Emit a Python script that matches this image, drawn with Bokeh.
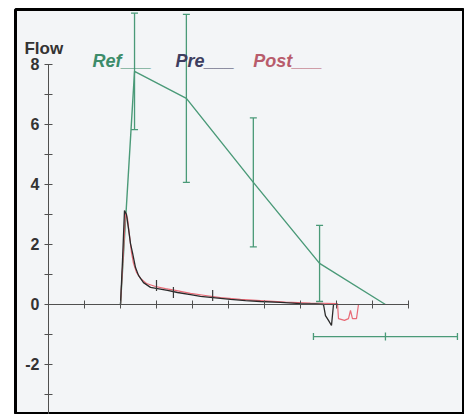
from bokeh.plotting import figure
from bokeh.models import (LinearAxis, FixedTicker, Range1d, ColumnDataSource,
                          Whisker, TeeHead, Label)
from bokeh.embed import file_html
from bokeh.resources import INLINE

# ---- data (x in axis-tick units, y = Flow) ----
ref_x = [2.00, 2.39, 3.83, 5.69, 7.53, 9.36]
ref_y = [0.00, 7.77, 6.87, 4.07, 1.37, 0.00]
err_x = [2.39, 3.83, 5.69, 7.53]
err_mid = [7.77, 6.87, 4.07, 1.37]
err_size = [1.94, 2.80, 2.15, 1.27]

# horizontal spread of the end point
end_x = [9.36]
end_y = [-1.07]
end_spread = [2.0]

pre_x = [2.00, 2.056, 2.111, 2.167, 2.222, 2.278, 2.333, 2.417, 2.50, 2.639,
         2.833, 3.028, 3.306, 3.583, 3.944, 4.222, 4.639, 5.056, 5.472,
         5.889, 6.444, 7.00, 7.417, 7.639, 7.694, 7.778, 7.861, 7.917]
pre_y = [0.00, 1.47, 3.13, 3.00, 2.53, 2.03, 1.73, 1.23, 0.97, 0.73,
         0.57, 0.53, 0.47, 0.40, 0.33, 0.27, 0.22, 0.17, 0.13,
         0.10, 0.07, 0.03, 0.02, 0.00, -0.37, -0.53, -0.70, 0.00]

pre_mark_x = [3.00, 3.47, 4.56]
pre_mark_y = [0.63, 0.40, 0.30]

post_x = [2.00, 2.083, 2.139, 2.194, 2.25, 2.306, 2.361, 2.444, 2.556, 2.722,
          2.972, 3.25, 3.528, 3.944, 4.361, 4.778, 5.333, 5.889, 6.583,
          7.278, 8.028, 8.056, 8.222, 8.333, 8.389, 8.444, 8.556, 8.611]
post_y = [0.00, 1.80, 3.07, 2.87, 2.30, 1.73, 1.37, 1.07, 0.87, 0.70,
          0.60, 0.53, 0.47, 0.37, 0.30, 0.23, 0.17, 0.13, 0.08,
          0.05, 0.03, -0.47, -0.53, -0.47, -0.20, -0.47, -0.47, 0.00]

x_ticks = [1, 2, 3, 4, 5, 6, 7, 8, 9, 10]
y_ticks = [-2, 0, 2, 4, 6, 8]
y_tick_labels = ["-2", "0", "2", "4", "6", "8"]
y_minor = [-3, -1, 1, 3, 5, 7]

GREEN = "#4a9a78"
GREEN_TXT = "#3c8c6a"
PRE_TXT = "#3e3e60"
POST_TXT = "#b85c6c"
POST_LINE = "#e86a76"
AX = "#505050"

p = figure(width=464, height=414,
           x_range=Range1d(-0.9167, 11.556), y_range=Range1d(-3.667, 9.833),
           x_axis_type=None, y_axis_type=None,
           output_backend="svg", toolbar_location=None,
           min_border_left=15, min_border_right=0,
           min_border_top=9, min_border_bottom=0)
p.background_fill_color = "#f3f5f7"
p.border_fill_color = "white"
p.outline_line_color = "black"
p.outline_line_width = 3

xax = LinearAxis(fixed_location=0, ticker=FixedTicker(ticks=x_ticks),
                 bounds=(0, 10),
                 major_label_overrides={t: "" for t in x_ticks},
                 major_tick_in=4, major_tick_out=4,
                 axis_line_color=AX, major_tick_line_color=AX,
                 minor_tick_line_color=None)
p.add_layout(xax, "below")

yax = LinearAxis(fixed_location=0,
                 ticker=FixedTicker(ticks=y_ticks, minor_ticks=y_minor),
                 bounds=(-4, 8),
                 major_label_overrides=dict(zip(y_ticks, y_tick_labels)),
                 major_tick_in=4, major_tick_out=4,
                 minor_tick_in=4, minor_tick_out=4,
                 axis_line_color=AX, major_tick_line_color=AX,
                 minor_tick_line_color=AX,
                 major_label_text_font="Liberation Sans",
                 major_label_text_font_style="bold",
                 major_label_text_font_size="16px",
                 major_label_text_color="#333333",
                 major_label_standoff=5)
p.add_layout(yax, "left")

# reference curve with error bars
p.line(ref_x, ref_y, line_color=GREEN, line_width=1.4)
esrc = ColumnDataSource(dict(
    x=err_x,
    lower=[m - e for m, e in zip(err_mid, err_size)],
    upper=[m + e for m, e in zip(err_mid, err_size)]))
p.add_layout(Whisker(source=esrc, base="x", lower="lower", upper="upper",
                     dimension="height", line_color=GREEN, line_width=1.3,
                     upper_head=TeeHead(size=7, line_color=GREEN, line_width=1.3),
                     lower_head=TeeHead(size=7, line_color=GREEN, line_width=1.3)))
hsrc = ColumnDataSource(dict(
    y=end_y,
    lower=[c - s for c, s in zip(end_x, end_spread)],
    upper=[c + s for c, s in zip(end_x, end_spread)]))
p.add_layout(Whisker(source=hsrc, base="y", lower="lower", upper="upper",
                     dimension="width", line_color=GREEN, line_width=1.3,
                     upper_head=TeeHead(size=7, line_color=GREEN, line_width=1.3),
                     lower_head=TeeHead(size=7, line_color=GREEN, line_width=1.3)))
p.scatter(end_x, end_y, marker="dash", angle=1.5708, size=8,
          line_color=GREEN, line_width=1.3)

# pre / post traces
p.line(post_x, post_y, line_color=POST_LINE, line_width=1.2)
p.line(pre_x, pre_y, line_color="#2a2a2a", line_width=1.3)
p.scatter(pre_mark_x, pre_mark_y, marker="dash", angle=1.5708, size=11,
          line_color="#3a3a3a", line_width=1.2)

# texts
p.add_layout(Label(x=-0.667, y=8.53, text="Flow", text_font="Liberation Sans",
                   text_font_style="bold", text_font_size="17px",
                   text_color="#333333", text_baseline="alphabetic"))
for lx, txt, col in [(1.22, "Ref___", GREEN_TXT), (3.53, "Pre___", PRE_TXT),
                     (5.69, "Post___", POST_TXT)]:
    p.add_layout(Label(x=lx, y=8.13, text=txt, text_font="Liberation Sans",
                       text_font_style="bold italic", text_font_size="18px",
                       text_color=col, text_baseline="alphabetic"))

open("out.html", "w").write(file_html(p, INLINE))
